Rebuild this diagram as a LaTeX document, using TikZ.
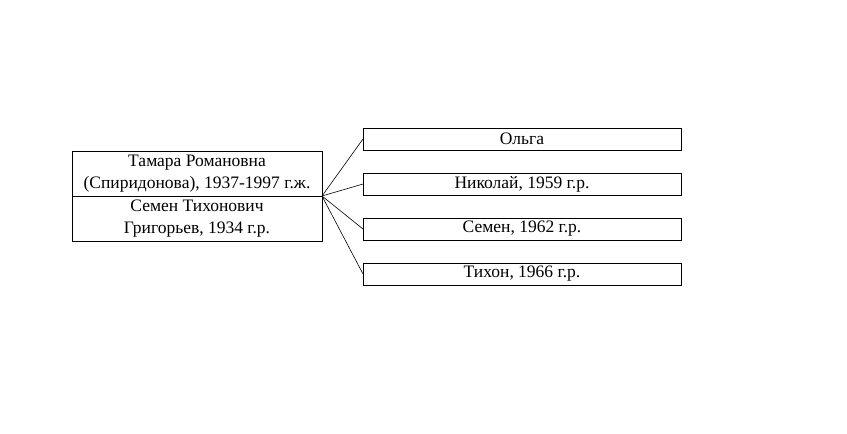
\documentclass[tikz,border=0pt]{standalone}
\usepackage{fontspec}
\setmainfont{Liberation Serif}
\usepackage{tikz}
\usetikzlibrary{positioning}

\tikzset{
    personbox/.style={draw, line width=1pt, inner sep=0pt, outer sep=0pt, align=center,
        font=\fontsize{17.5}{22.5}\selectfont},
    parentbox/.style={personbox, minimum width=250pt, minimum height=45pt},
    childbox/.style={personbox, minimum width=318pt, minimum height=22pt},
    link/.style={line width=0.6pt}
}

\begin{document}
\begin{tikzpicture}[x=1pt, y=-1pt]
    \useasboundingbox (0,0) rectangle (847,434);

    % parents
    \node[parentbox] (mother) at (197, 173.5) {Тамара Романовна\\(Спиридонова), 1937-1997 г.ж.};
    \node[parentbox, below=0pt of mother] (father) {Семен Тихонович\\Григорьев, 1934 г.р.};

    % children
    \node[childbox] (olga) at (522, 139) {Ольга};
    \node[childbox, below=23pt of olga] (nikolaj) {Николай, 1959 г.р.};
    \node[childbox, below=23pt of nikolaj] (semen) {Семен, 1962 г.р.};
    \node[childbox, below=23pt of semen] (tihon) {Тихон, 1966 г.р.};

    \foreach \kid in {olga, nikolaj, semen, tihon} {
        \draw[link] (mother.south east) -- (\kid.west);
    }
\end{tikzpicture}
\end{document}
